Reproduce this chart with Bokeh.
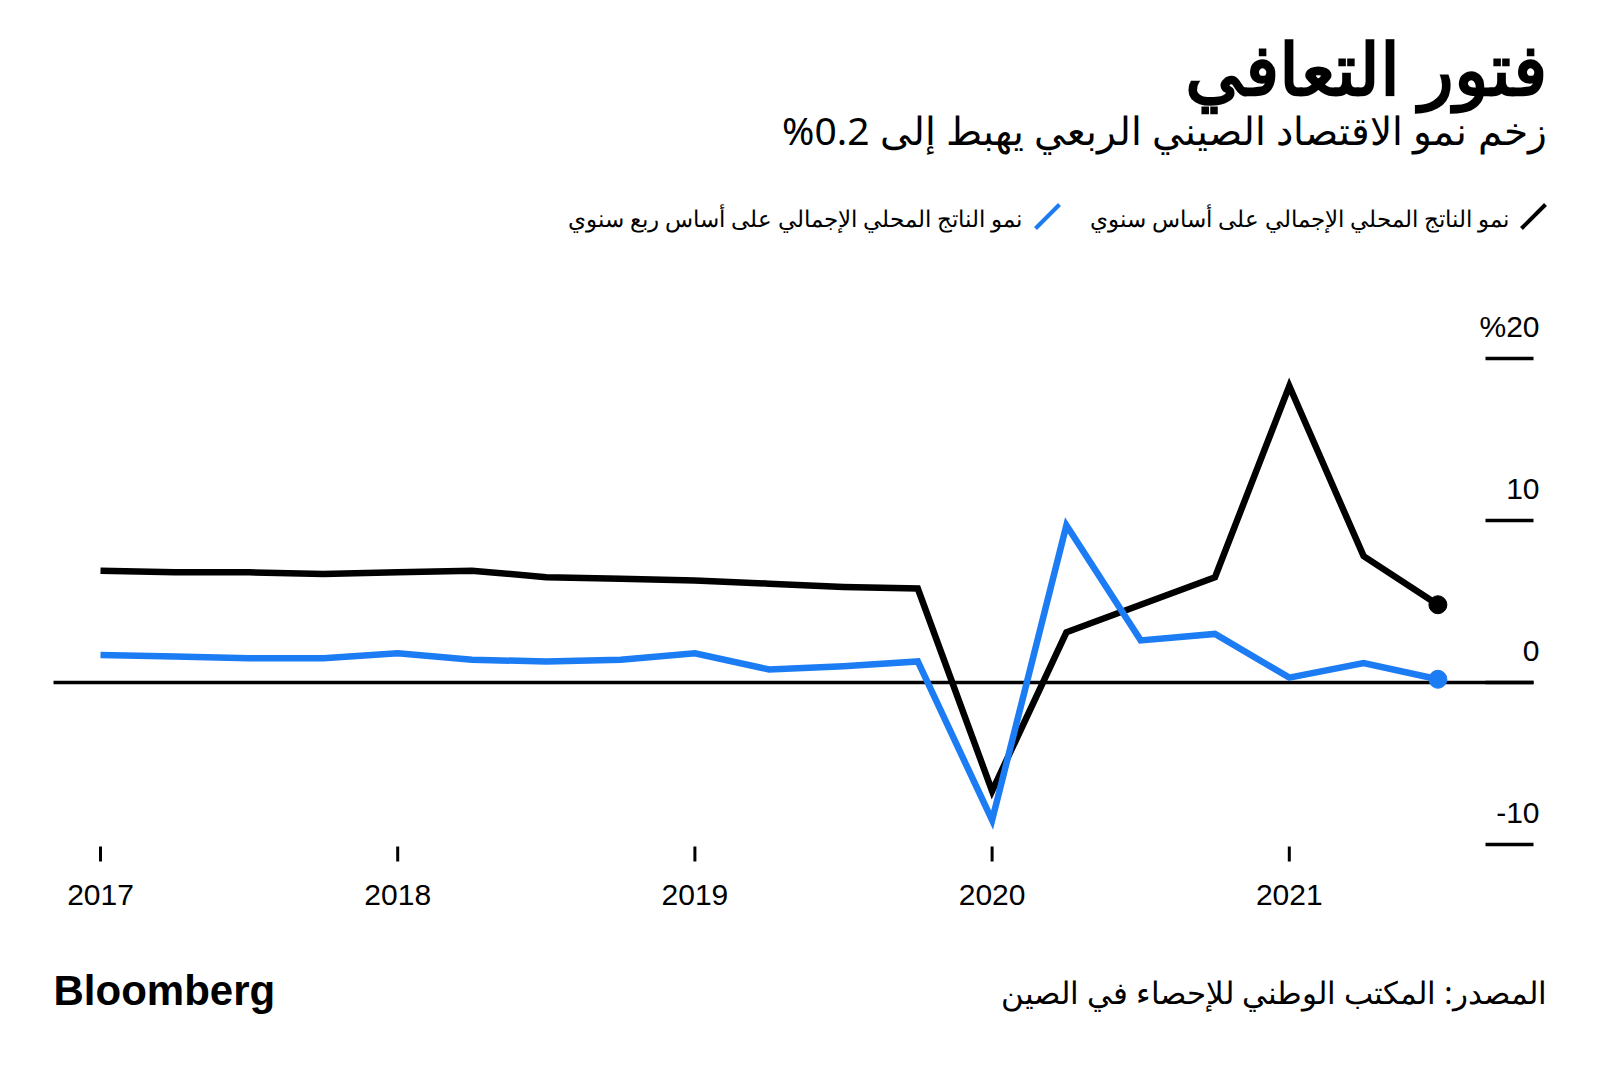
from bokeh.plotting import figure
from bokeh.models import Range1d, Label, ColumnDataSource
from bokeh.core.properties import value
from bokeh.embed import file_html
from bokeh.resources import INLINE

# ---- data ----
QUARTERS = ["2017-Q1", "2017-Q2", "2017-Q3", "2017-Q4",
            "2018-Q1", "2018-Q2", "2018-Q3", "2018-Q4",
            "2019-Q1", "2019-Q2", "2019-Q3", "2019-Q4",
            "2020-Q1", "2020-Q2", "2020-Q3", "2020-Q4",
            "2021-Q1", "2021-Q2", "2021-Q3"]
YOY = [6.9, 6.8, 6.8, 6.7, 6.8, 6.9, 6.5, 6.4,
       6.3, 6.1, 5.9, 5.8, -6.7, 3.1, 4.8, 6.5,
       18.3, 7.8, 4.8]
QOQ = [1.7, 1.6, 1.5, 1.5, 1.8, 1.4, 1.3, 1.4,
       1.8, 0.8, 1.0, 1.3, -8.5, 9.7, 2.6, 3.0,
       0.3, 1.2, 0.2]
YEARS = [2017, 2018, 2019, 2020, 2021]
Y_TICKS = [-10, 0, 10, 20]
Y_TICK_LABELS = ["-10", "0", "10", "%20"]

TITLE = "فتور التعافي"
SUBTITLE = "زخم نمو الاقتصاد الصيني الربعي يهبط إلى 0.2%"
LEGEND_YOY = "نمو الناتج المحلي الإجمالي على أساس سنوي"
LEGEND_QOQ = "نمو الناتج المحلي الإجمالي على أساس ربع سنوي"
SOURCE = "المصدر: المكتب الوطني للإحصاء في الصين"
BRAND = "Bloomberg"

BLACK = "#000000"
BLUE = "#1c7cf3"
AR_FONT = "Noto Sans"
NUM_FONT = "Liberation Sans"

W, H = 1600, 1070
# pixel geometry of the plotting scale
X0_PX, YEAR_PX = 100.0, 297.2     # 2017.0 at x=100, one year = 297.2 px
Y0_PX, UNIT_PX = 682.0, 16.2      # value 0 at y=682 (from top), 1 unit = 16.2 px


def xd(px):
    return 2017 + (px - X0_PX) / YEAR_PX


def yd(py):
    return (Y0_PX - py) / UNIT_PX


def qx(q):
    y, qq = q.split("-Q")
    return int(y) + (int(qq) - 1) / 4.0


xs = [qx(q) for q in QUARTERS]

p = figure(width=W, height=H, output_backend="svg", toolbar_location=None,
           x_range=Range1d(xd(0), xd(W)), y_range=Range1d(yd(H), yd(0)),
           x_axis_location=None, y_axis_location=None,
           min_border=0, min_border_left=0, min_border_right=0,
           min_border_top=0, min_border_bottom=0)
p.outline_line_color = None
p.grid.visible = False
p.background_fill_color = "white"
p.border_fill_color = "white"

# zero line
p.segment(x0=[xd(53)], y0=[0], x1=[xd(1533)], y1=[0], line_color=BLACK, line_width=3.5)

# y ticks (short horizontal marks) and labels above them
p.segment(x0=[xd(1485)] * len(Y_TICKS), y0=Y_TICKS, x1=[xd(1533)] * len(Y_TICKS), y1=Y_TICKS,
          line_color=BLACK, line_width=3.5)
p.text(x=[xd(1539)] * len(Y_TICKS), y=Y_TICKS, text=Y_TICK_LABELS,
       text_align="right", text_baseline="middle", y_offset=-32,
       text_font=value(NUM_FONT), text_font_size="30px", text_color=BLACK)

# x ticks (short vertical marks) and year labels
p.segment(x0=YEARS, y0=[yd(846)] * len(YEARS), x1=YEARS, y1=[yd(861)] * len(YEARS),
          line_color=BLACK, line_width=3)
p.text(x=YEARS, y=[yd(894)] * len(YEARS), text=[str(y) for y in YEARS],
       text_align="center", text_baseline="middle",
       text_font=value(NUM_FONT), text_font_size="30px", text_color=BLACK)

# series
src = ColumnDataSource(dict(x=xs, yoy=YOY, qoq=QOQ))
p.line("x", "yoy", source=src, line_color=BLACK, line_width=6.5, line_join="miter")
p.line("x", "qoq", source=src, line_color=BLUE, line_width=6.5, line_join="miter")
p.scatter([xs[-1]], [YOY[-1]], size=18, color=BLACK)
p.scatter([xs[-1]], [QOQ[-1]], size=18, color=BLUE)

# title / subtitle
p.add_layout(Label(x=xd(1546), y=yd(66), text=TITLE, text_align="right",
                   text_baseline="alphabetic", text_font=AR_FONT, text_font_size="72px",
                   text_font_style="bold", text_color=BLACK))
p.add_layout(Label(x=xd(1546), y=yd(129), text="\u202b" + SUBTITLE + "\u202c", text_align="right",
                   text_baseline="alphabetic", text_font=AR_FONT, text_font_size="39px",
                   text_color=BLACK))

# legend
p.segment(x0=[xd(1521)], y0=[yd(228)], x1=[xd(1545)], y1=[yd(204)], line_color=BLACK, line_width=4)
p.add_layout(Label(x=xd(1508), y=yd(217), text=LEGEND_YOY, text_align="right",
                   text_baseline="alphabetic", text_font=AR_FONT, text_font_size="23px",
                   text_color=BLACK))
p.segment(x0=[xd(1035)], y0=[yd(228)], x1=[xd(1059)], y1=[yd(204)], line_color=BLUE, line_width=4)
p.add_layout(Label(x=xd(1021), y=yd(217), text=LEGEND_QOQ, text_align="right",
                   text_baseline="alphabetic", text_font=AR_FONT, text_font_size="23px",
                   text_color=BLACK))

# footer
p.add_layout(Label(x=xd(53), y=yd(990), text=BRAND, text_align="left",
                   text_baseline="alphabetic", text_font=NUM_FONT, text_font_size="42px",
                   text_font_style="bold", text_color=BLACK))
p.add_layout(Label(x=xd(1546), y=yd(991), text=SOURCE, text_align="right",
                   text_baseline="alphabetic", text_font=AR_FONT, text_font_size="31px",
                   text_color=BLACK))

open("out.html", "w").write(file_html(p, INLINE))
